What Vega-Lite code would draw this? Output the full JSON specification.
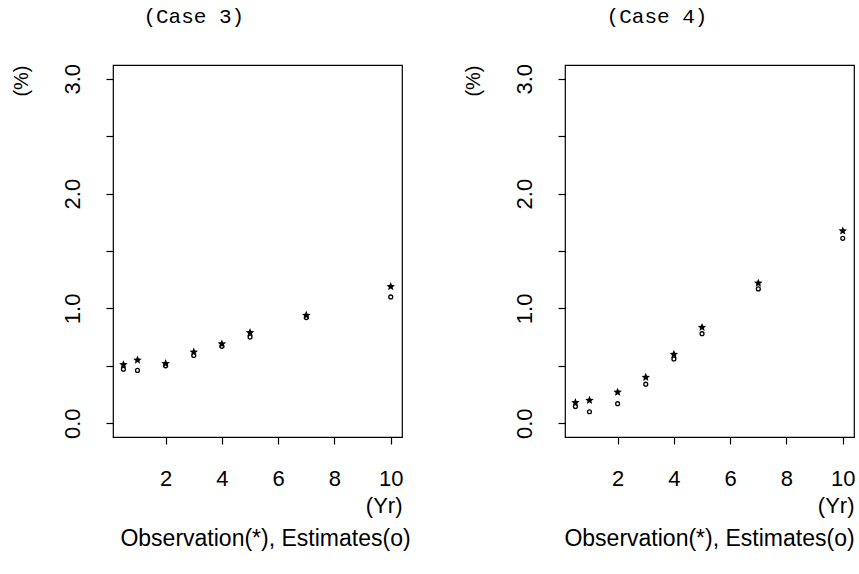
{
  "$schema": "https://vega.github.io/schema/vega-lite/v6.json",
  "background": "white",
  "padding": {"left": 10, "top": 5, "right": 0, "bottom": 0},
  "spacing": 50,
  "config": {
    "view": {"stroke": "black", "strokeWidth": 1.2},
    "font": "Liberation Sans",
    "axis": {"domain": false, "grid": false, "tickColor": "black", "tickSize": 7, "tickWidth": 1.2, "labelColor": "black", "labelFont": "Liberation Sans", "labelFontSize": 22, "titleFont": "Liberation Sans", "titleFontWeight": "normal", "titleColor": "black"},
    "title": {"font": "Liberation Mono", "fontSize": 21, "fontWeight": "normal", "color": "black"}
  },
  "datasets": {
    "pts": [
      {"case": "Case 3", "year": 0.5, "obs": 0.51, "est": 0.47},
      {"case": "Case 3", "year": 1, "obs": 0.55, "est": 0.46},
      {"case": "Case 3", "year": 2, "obs": 0.52, "est": 0.50},
      {"case": "Case 3", "year": 3, "obs": 0.62, "est": 0.59},
      {"case": "Case 3", "year": 4, "obs": 0.69, "est": 0.67},
      {"case": "Case 3", "year": 5, "obs": 0.79, "est": 0.75},
      {"case": "Case 3", "year": 7, "obs": 0.94, "est": 0.92},
      {"case": "Case 3", "year": 10, "obs": 1.19, "est": 1.10},
      {"case": "Case 4", "year": 0.5, "obs": 0.18, "est": 0.145},
      {"case": "Case 4", "year": 1, "obs": 0.20, "est": 0.10},
      {"case": "Case 4", "year": 2, "obs": 0.27, "est": 0.17},
      {"case": "Case 4", "year": 3, "obs": 0.40, "est": 0.34},
      {"case": "Case 4", "year": 4, "obs": 0.60, "est": 0.56},
      {"case": "Case 4", "year": 5, "obs": 0.835, "est": 0.78},
      {"case": "Case 4", "year": 7, "obs": 1.22, "est": 1.17},
      {"case": "Case 4", "year": 10, "obs": 1.675, "est": 1.61}
    ]
  },
  "hconcat": [
    {
      "title": {"text": "(Case 3)", "anchor": "middle", "dx": -17, "offset": 36},
      "vconcat": [
        {
          "width": 289, "height": 372,
          "data": {"name": "pts"},
          "transform": [{"filter": "datum.case === 'Case 3'"}],
          "title": {"text": "Observation(*), Estimates(o)", "orient": "bottom", "font": "Liberation Sans", "fontSize": 23, "offset": 12, "dx": 8},
          "layer": [
            {
              "mark": {"type": "point", "shape": "M0,-1L0.2645,-0.364L0.951,-0.309L0.428,0.139L0.588,0.809L0,0.45L-0.588,0.809L-0.428,0.139L-0.951,-0.309L-0.2645,-0.364Z", "filled": true, "color": "black", "opacity": 1, "size": 80},
              "encoding": {
                "x": {"field": "year", "type": "quantitative", "scale": {"domain": [0.13, 10.4], "nice": false, "zero": false}, "axis": {"values": [2, 4, 6, 8, 10], "title": "(Yr)", "titleAnchor": "end", "titleFontSize": 22, "labelPadding": 24, "titlePadding": 6}},
                "y": {"field": "obs", "type": "quantitative", "scale": {"domain": [-0.12, 3.12], "nice": false, "zero": false}, "axis": {"values": [0, 0.5, 1, 1.5, 2, 2.5, 3], "labelExpr": "datum.value % 1 === 0 ? format(datum.value, '.1f') : ''", "labelAngle": 270, "labelPadding": 22, "title": "(%)", "titleAnchor": "end", "titleFontSize": 20, "titlePadding": 30}}
              }
            },
            {
              "mark": {"type": "point", "shape": "circle", "filled": false, "color": "black", "opacity": 1, "strokeWidth": 1.3, "size": 15},
              "encoding": {
                "x": {"field": "year", "type": "quantitative"},
                "y": {"field": "est", "type": "quantitative"}
              }
            }
          ]
        }
      ]
    },
    {
      "title": {"text": "(Case 4)", "anchor": "middle", "dx": -2, "offset": 36},
      "vconcat": [
        {
          "width": 289, "height": 372,
          "data": {"name": "pts"},
          "transform": [{"filter": "datum.case === 'Case 4'"}],
          "title": {"text": "Observation(*), Estimates(o)", "orient": "bottom", "font": "Liberation Sans", "fontSize": 23, "offset": 12},
          "layer": [
            {
              "mark": {"type": "point", "shape": "M0,-1L0.2645,-0.364L0.951,-0.309L0.428,0.139L0.588,0.809L0,0.45L-0.588,0.809L-0.428,0.139L-0.951,-0.309L-0.2645,-0.364Z", "filled": true, "color": "black", "opacity": 1, "size": 80},
              "encoding": {
                "x": {"field": "year", "type": "quantitative", "scale": {"domain": [0.13, 10.4], "nice": false, "zero": false}, "axis": {"values": [2, 4, 6, 8, 10], "title": "(Yr)", "titleAnchor": "end", "titleFontSize": 22, "labelPadding": 24, "titlePadding": 6}},
                "y": {"field": "obs", "type": "quantitative", "scale": {"domain": [-0.12, 3.12], "nice": false, "zero": false}, "axis": {"values": [0, 0.5, 1, 1.5, 2, 2.5, 3], "labelExpr": "datum.value % 1 === 0 ? format(datum.value, '.1f') : ''", "labelAngle": 270, "labelPadding": 22, "title": "(%)", "titleAnchor": "end", "titleFontSize": 20, "titlePadding": 30}}
              }
            },
            {
              "mark": {"type": "point", "shape": "circle", "filled": false, "color": "black", "opacity": 1, "strokeWidth": 1.3, "size": 15},
              "encoding": {
                "x": {"field": "year", "type": "quantitative"},
                "y": {"field": "est", "type": "quantitative"}
              }
            }
          ]
        }
      ]
    }
  ]
}
